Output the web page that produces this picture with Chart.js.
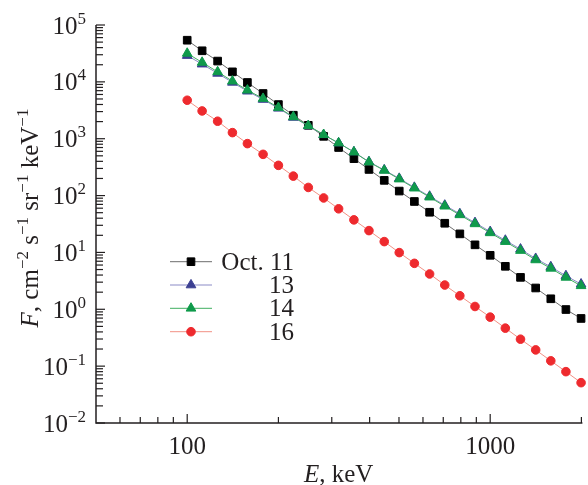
<!DOCTYPE html>
<html>
<head>
<meta charset="utf-8">
<script src="https://cdn.jsdelivr.net/npm/chart.js@4.4.1/dist/chart.umd.min.js"></script>
<style>
  html, body { margin: 0; padding: 0; background: #fff; }
  #wrap { width: 588px; height: 485px; }
</style>
</head>
<body>
<div id="wrap"><canvas id="spectra" width="588" height="485"></canvas></div>
<script>
// energy channels, keV
const energy = [100, 112, 126, 141, 158, 178, 200, 224, 251, 282, 316, 355, 398, 447, 501, 562, 631, 708, 794, 891, 1000, 1122, 1259, 1413, 1585, 1778, 1995];

// flux F, cm^-2 s^-1 sr^-1 keV^-1
const fluxOct11 = [54000, 35200, 23200, 15000, 9750, 6240, 3990, 2590, 1720, 1100, 700, 446, 288, 185, 120, 78.7, 50.9, 32.6, 21.2, 13.6, 8.9, 5.7, 3.64, 2.37, 1.53, 0.99, 0.69];
const fluxOct13 = [29000, 20500, 14100, 9800, 6850, 4900, 3430, 2370, 1680, 1170, 840, 585, 392, 282, 200, 139, 97, 67.5, 47.8, 33.3, 23.2, 16.3, 11.4, 7.8, 5.57, 3.88, 2.77];
const fluxOct14 = [31700, 22000, 15000, 10300, 7140, 5090, 3530, 2420, 1700, 1180, 840, 582, 388, 277, 195, 135, 93.8, 65, 45.8, 31.8, 22.1, 15.5, 10.8, 7.38, 5.25, 3.64, 2.59];
const fluxOct16 = [4750, 3080, 2030, 1280, 820, 531, 340, 220, 139, 90.8, 58.5, 37.4, 24.2, 15.5, 9.93, 6.43, 4.18, 2.67, 1.73, 1.12, 0.728, 0.466, 0.298, 0.193, 0.124, 0.080, 0.0512];

const seriesLabels = ['Oct. 11', '13', '14', '16'];
const xTickLabels = [100, 1000];
const yTickExponents = [-2, -1, 0, 1, 2, 3, 4, 5];

const SERIF = '"Liberation Serif", "DejaVu Serif", serif';
const INK = '#231f20';

function pts(arr) {
  return arr.map((v, i) => ({x: energy[i], y: v}));
}

function minusFix(n) {
  return String(n).replace('-', '\u2212');
}

// 10^n, right aligned
function drawPower(ctx, xRight, yTick, exp) {
  const e = minusFix(exp);
  ctx.font = '17px ' + SERIF;
  const ew = ctx.measureText(e).width;
  ctx.font = '25px ' + SERIF;
  const bw = ctx.measureText('10').width;
  ctx.textAlign = 'left';
  ctx.textBaseline = 'alphabetic';
  ctx.fillText('10', xRight - ew - bw, yTick + 8.5);
  ctx.font = '17px ' + SERIF;
  ctx.fillText(e, xRight - ew, yTick - 1.5);
}

function drawRich(ctx, parts, cx, baseY) {
  const fontOf = p => (p.it ? 'italic ' : '') + (p.sup ? '17px ' : '25px ') + SERIF;
  let total = 0;
  parts.forEach(p => { ctx.font = fontOf(p); p.w = ctx.measureText(p.t).width; total += p.w; });
  let x = cx - total / 2;
  ctx.textAlign = 'left';
  ctx.textBaseline = 'alphabetic';
  parts.forEach(p => {
    ctx.font = fontOf(p);
    ctx.fillText(p.t, x, p.sup ? baseY - 10 : baseY);
    x += p.w;
  });
}

const decor = {
  id: 'decor',
  afterDraw(chart) {
    const ctx = chart.ctx;
    const xs = chart.scales.x, ys = chart.scales.y;
    const a = chart.chartArea;
    ctx.save();
    ctx.strokeStyle = INK;
    ctx.fillStyle = INK;

    // axes
    ctx.lineWidth = 1.5;
    ctx.beginPath();
    ctx.moveTo(a.left, a.top);
    ctx.lineTo(a.left, a.bottom);
    ctx.lineTo(a.right + 1, a.bottom);
    ctx.stroke();

    // ticks
    ctx.lineWidth = 1.2;
    for (let d = -3; d <= 5; d++) {
      for (let m = 1; m <= 9; m++) {
        const v = m * Math.pow(10, d);
        if (v > xs.min && v <= xs.max && d >= 1) {
          const px = xs.getPixelForValue(v);
          ctx.beginPath();
          ctx.moveTo(px, a.bottom);
          ctx.lineTo(px, a.bottom - (m === 1 ? 9 : 6));
          ctx.stroke();
        }
        if (v >= ys.min && v <= ys.max) {
          const py = ys.getPixelForValue(v);
          ctx.beginPath();
          ctx.moveTo(a.left, py);
          ctx.lineTo(a.left + (m === 1 ? 9 : 7), py);
          ctx.stroke();
        }
      }
    }

    // tick labels
    ctx.font = '25px ' + SERIF;
    ctx.textAlign = 'center';
    ctx.textBaseline = 'alphabetic';
    xTickLabels.forEach(v => {
      ctx.fillText(String(v), xs.getPixelForValue(v), a.bottom + 31);
    });
    yTickExponents.forEach(e => {
      drawPower(ctx, a.left - 10, ys.getPixelForValue(Math.pow(10, e)), e);
    });

    // axis titles
    drawRich(ctx, [{t: 'E', it: true}, {t: ', keV'}], (a.left + a.right) / 2, 482);
    ctx.save();
    ctx.translate(38, 218);
    ctx.rotate(-Math.PI / 2);
    drawRich(ctx, [
      {t: 'F', it: true}, {t: ', cm'}, {t: '\u22122', sup: true},
      {t: ' s'}, {t: '\u22121', sup: true},
      {t: ' sr'}, {t: '\u22121', sup: true},
      {t: ' keV'}, {t: '\u22121', sup: true}
    ], 0, 0);
    ctx.restore();

    // legend
    const rowY = [261.7, 285, 308.3, 331.7];
    chart.data.datasets.forEach((ds, i) => {
      const y = rowY[i];
      ctx.strokeStyle = ds.borderColor;
      ctx.lineWidth = 1;
      ctx.beginPath();
      ctx.moveTo(170, y);
      ctx.lineTo(212, y);
      ctx.stroke();
      ctx.fillStyle = ds.pointBackgroundColor;
      ctx.strokeStyle = ds.pointBorderColor;
      Chart.helpers.drawPoint(ctx, {pointStyle: ds.pointStyle, radius: ds.pointRadius, borderWidth: 1, rotation: 0}, 191, y);
      ctx.fillStyle = INK;
      ctx.font = '25px ' + SERIF;
      ctx.textAlign = 'right';
      ctx.textBaseline = 'alphabetic';
      ctx.fillText(ds.label, 294, y + 8);
    });
    ctx.restore();
  }
};

new Chart(document.getElementById('spectra'), {
  type: 'line',
  data: {
    datasets: [
      {
        label: seriesLabels[0], data: pts(fluxOct11), order: 2,
        borderColor: '#6d6d6d', borderWidth: 1,
        pointStyle: 'rect', pointRadius: 5.4,
        pointBackgroundColor: '#000', pointBorderColor: '#000', pointBorderWidth: 1
      },
      {
        label: seriesLabels[1], data: pts(fluxOct13), order: 1,
        borderColor: '#8b8bc6', borderWidth: 1,
        pointStyle: 'triangle', pointRadius: 5.6,
        pointBackgroundColor: '#3b3f92', pointBorderColor: '#3b3f92', pointBorderWidth: 1
      },
      {
        label: seriesLabels[2], data: pts(fluxOct14), order: 0,
        borderColor: '#3fae5f', borderWidth: 1,
        pointStyle: 'triangle', pointRadius: 5.6,
        pointBackgroundColor: '#0f9a4b', pointBorderColor: '#0f9a4b', pointBorderWidth: 1
      },
      {
        label: seriesLabels[3], data: pts(fluxOct16), order: 3,
        borderColor: '#f29084', borderWidth: 1,
        pointStyle: 'circle', pointRadius: 4.3,
        pointBackgroundColor: '#ee2a2e', pointBorderColor: '#ee2a2e', pointBorderWidth: 1
      }
    ]
  },
  options: {
    responsive: false,
    animation: false,
    devicePixelRatio: 1,
    clip: false,
    layout: { padding: { left: 96, top: 25, right: 0, bottom: 62 } },
    scales: {
      x: { type: 'logarithmic', min: 50, max: 2000, display: false },
      y: { type: 'logarithmic', min: 0.01, max: 100000, display: false }
    },
    plugins: {
      legend: { display: false },
      tooltip: { enabled: false }
    }
  },
  plugins: [decor]
});
</script>
</body>
</html>
